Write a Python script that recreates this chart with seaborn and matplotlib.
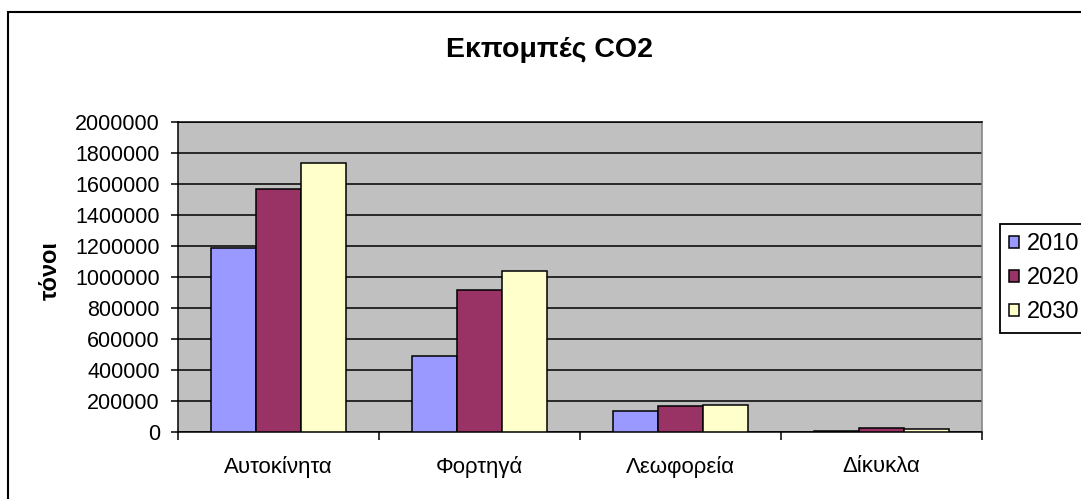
import pandas as pd
import seaborn as sns
import matplotlib.pyplot as plt
from matplotlib.patches import Rectangle
from matplotlib.ticker import FuncFormatter

# data
categories = ['Αυτοκίνητα', 'Φορτηγά', 'Λεωφορεία', 'Δίκυκλα']
years = ['2010', '2020', '2030']
vals_2010 = [1190000, 490000, 135000, 9000]
vals_2020 = [1565000, 914000, 170000, 23000]
vals_2030 = [1738000, 1040000, 171000, 21000]
yticks = list(range(0, 2000001, 200000))

colors = ['#9999FF', '#993366', '#FFFFCC']

rows = []
for yr, vals in zip(years, [vals_2010, vals_2020, vals_2030]):
    for cat, v in zip(categories, vals):
        rows.append({'cat': cat, 'year': yr, 'value': v})
df = pd.DataFrame(rows)

sns.set_style('white')
plt.rcParams['font.family'] = ['Liberation Sans', 'DejaVu Sans']
plt.rcParams['text.color'] = 'black'
plt.rcParams['xtick.color'] = 'black'
plt.rcParams['ytick.color'] = 'black'
plt.rcParams['axes.labelcolor'] = 'black'

W, H = 1081, 499
fig = plt.figure(figsize=(W / 100, H / 100), dpi=100)
ax = fig.add_axes([178 / W, 1 - 432 / H, (982 - 178) / W, (432 - 122) / H])
ax.set_facecolor('#C0C0C0')

sns.barplot(data=df, x='cat', y='value', hue='year', order=categories, hue_order=years,
            palette=colors, saturation=1, width=0.67, edgecolor='black', linewidth=1.1,
            errorbar=None, ax=ax, zorder=3)

ax.set_ylim(0, 2000000)
ax.set_xlim(-0.5, len(categories) - 0.5)
ax.set_yticks(yticks)
ax.yaxis.set_major_formatter(FuncFormatter(lambda v, _: f'{int(v)}'))
ax.set_axisbelow(True)
ax.yaxis.grid(True, color='black', linewidth=1.1)
ax.set_xlabel('')
ax.set_ylabel('')

ax.tick_params(axis='y', which='major', direction='out', length=5, width=1.1,
               pad=8, labelsize=15.5, left=True, colors='black')
ax.tick_params(axis='x', which='major', length=0, pad=17, labelsize=16, colors='black')
ax.set_xticks([i - 0.5 for i in range(len(categories) + 1)], minor=True)
ax.tick_params(axis='x', which='minor', direction='out', length=6, width=1.1,
               bottom=True, color='black')

for side in ['left', 'bottom', 'top']:
    ax.spines[side].set_color('black')
    ax.spines[side].set_linewidth(1.1)
ax.spines['right'].set_color('#808080')
ax.spines['right'].set_linewidth(1.1)

ax.get_legend().remove()
handles, labels = ax.get_legend_handles_labels()
leg = fig.legend(handles, labels, loc='upper left', bbox_to_anchor=(1000 / W, 1 - 224 / H),
                 frameon=True, fancybox=False, edgecolor='black', framealpha=1,
                 fontsize=17, handlelength=0.42, handleheight=0.42, handletextpad=0.3,
                 labelspacing=0.5, borderpad=0.4, borderaxespad=0)
leg.get_frame().set_linewidth(1.3)

fig.text(550 / W, 1 - 50 / H, 'Εκπομπές CO2', ha='center', va='center',
         fontsize=20.5, fontweight='bold')
fig.text(50 / W, 1 - 271 / H, 'τόνοι', ha='center', va='center', rotation=90,
         fontsize=17, fontweight='bold')

# outer chart-area border (runs off the right and bottom edges)
fig.patches.append(Rectangle((8 / W, -0.2), 1.2, 1.2 - 12 / H, transform=fig.transFigure,
                             fill=False, edgecolor='black', linewidth=1.5, clip_on=False))

fig.savefig('out.png', dpi=100)
